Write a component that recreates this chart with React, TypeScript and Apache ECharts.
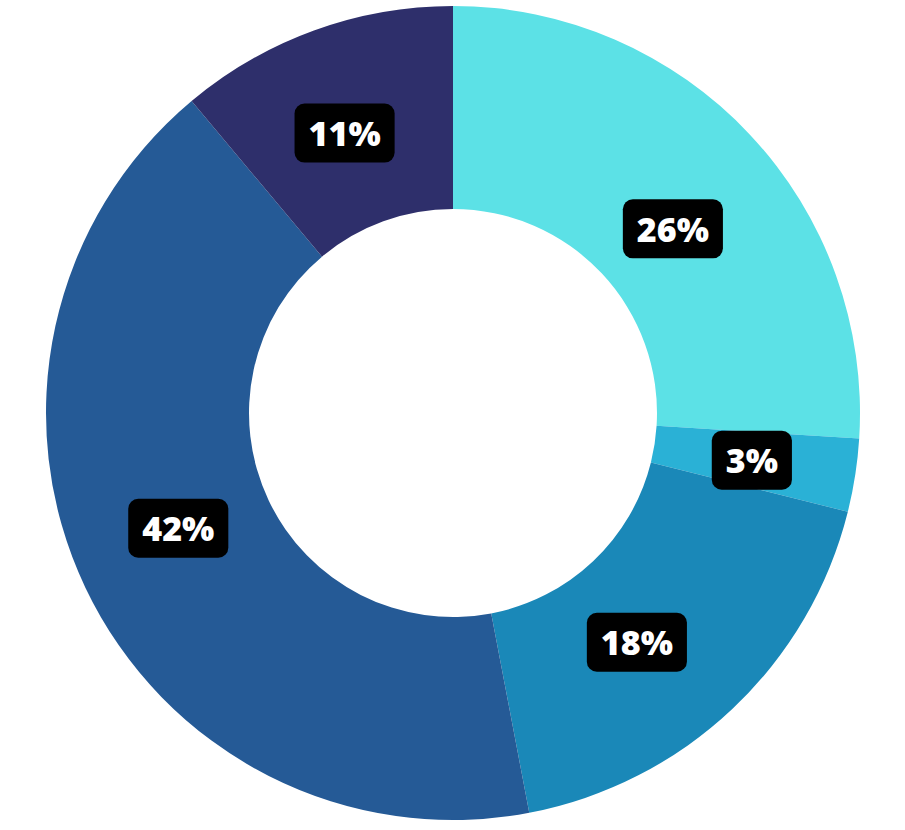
import React, { useEffect, useRef } from "react";
import * as echarts from "echarts";

const categories = ["A", "B", "C", "D", "E"];
const values = [26, 2.9, 18.1, 41.9, 11.1];
const labels = ["26%", "3%", "18%", "42%", "11%"];
const colors = ["#5CE1E6", "#2AB1D6", "#1A88B8", "#255A96", "#2E2F6B"];
const labelOffsets = [[-5, 27], [-6, 0], [-28, 5], [4, -17], [-3, 10]];

export default function App() {
  const ref = useRef<HTMLDivElement>(null);
  useEffect(() => {
    document.body.style.margin = "0";
    const chart = echarts.init(ref.current!, null, { renderer: "svg" });
    chart.setOption({
      animation: false,
      series: [
        {
          type: "pie",
          center: [453, 413],
          radius: [204, 407],
          startAngle: 90,
          clockwise: true,
          avoidLabelOverlap: false,
          data: categories.map((c, i) => ({
            name: c,
            value: values[i],
            itemStyle: { color: colors[i] },
            label: { formatter: labels[i], offset: labelOffsets[i] },
          })),
          label: {
            show: true,
            position: "inside",
            color: "#fff",
            fontFamily: "Open Sans",
            fontWeight: 800,
            fontSize: 34,
            backgroundColor: "#000",
            borderRadius: 10,
            padding: [12, 14, 9, 14],
            lineHeight: 38,
          },
          labelLine: { show: false },
          emphasis: { disabled: true },
        },
      ],
    });
    return () => chart.dispose();
  }, []);
  return <div ref={ref} style={{ width: 905, height: 830 }} />;
}
